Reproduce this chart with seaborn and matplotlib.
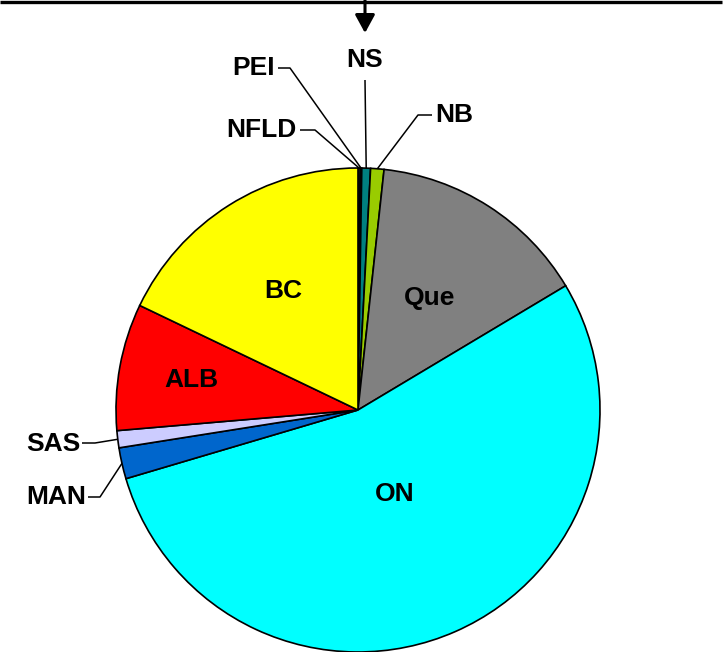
import numpy as np
import matplotlib
matplotlib.use("Agg")
import matplotlib.pyplot as plt
from matplotlib.patches import FancyArrowPatch
import seaborn as sns

# ---- data ----
provinces = ["NFLD", "PEI", "NS", "NB", "Que", "ON", "MAN", "SAS", "ALB", "BC"]
shares = [0.14, 0.11, 0.58, 0.89, 14.7, 54.0, 2.08, 1.14, 8.47, 17.89]
colors = ["#C0C0C0", "#E8E8E8", "#008080", "#99CC00", "#808080",
          "#00FFFF", "#0066CC", "#CCCCFF", "#FF0000", "#FFFF00"]

inside_labels = {"Que": 0.55, "ON": 0.38, "ALB": 0.70, "BC": 0.58}

sns.set_theme(style="white")
plt.rcParams["font.family"] = ["Liberation Sans", "DejaVu Sans"]
plt.rcParams["text.color"] = "black"

W, H = 726, 652
fig = plt.figure(figsize=(W / 100, H / 100), dpi=100)
ax = fig.add_axes([0, 0, 1, 1])

cx, cy, R = 358, H - 410, 242
wedges, _ = ax.pie(shares, colors=colors, startangle=90, counterclock=False,
                   center=(cx, cy), radius=R,
                   wedgeprops=dict(edgecolor="black", linewidth=1.2))
ax.set_xlim(0, W)
ax.set_ylim(0, H)
ax.set_aspect("equal")
ax.axis("off")

fs = 19
def pt(ang, f):
    a = np.deg2rad(ang)
    return cx + f * R * np.cos(a), cy + f * R * np.sin(a)

mids = {}
for name, w in zip(provinces, wedges):
    mids[name] = (w.theta1 + w.theta2) / 2

for name, f in inside_labels.items():
    x, y = pt(mids[name], f)
    ax.text(x, y, name, ha="center", va="center", fontsize=fs,
            fontweight="bold", color="black")

# outside labels: (text x, text y [pixels from top], ha, elbow points)
outside = {
    "PEI": (275, 68, "right", [(278, 68), (290, 68)]),
    "NFLD": (297, 130, "right", [(300, 130), (315, 130)]),
    "NS": (365, 60, "center", [(365, 80)]),
    "NB": (435, 115, "left", [(432, 115), (418, 115)]),
    "SAS": (80, 444, "right", [(82, 443), (95, 443)]),
    "MAN": (86, 497, "right", [(88, 497), (100, 497)]),
}
for name, (tx, ty, ha, elbow) in outside.items():
    ax.text(tx, H - ty, name, ha=ha, va="center", fontsize=fs,
            fontweight="bold", color="black")
    ex, ey = pt(mids[name], 1.0)
    xs = [p[0] for p in elbow] + [ex]
    ys = [H - p[1] for p in elbow] + [ey]
    ax.plot(xs, ys, color="black", lw=1.1, solid_capstyle="butt")

# top rule and arrow
ax.plot([0, 722], [H - 1.5, H - 1.5], color="black", lw=2.4, solid_capstyle="butt")
arr = FancyArrowPatch((365, H), (365, H - 33),
                      arrowstyle="-|>,head_length=0.55,head_width=0.3",
                      mutation_scale=20, color="black", lw=2.2,
                      shrinkA=0, shrinkB=0)
ax.add_patch(arr)

fig.savefig("out.png", dpi=100)
